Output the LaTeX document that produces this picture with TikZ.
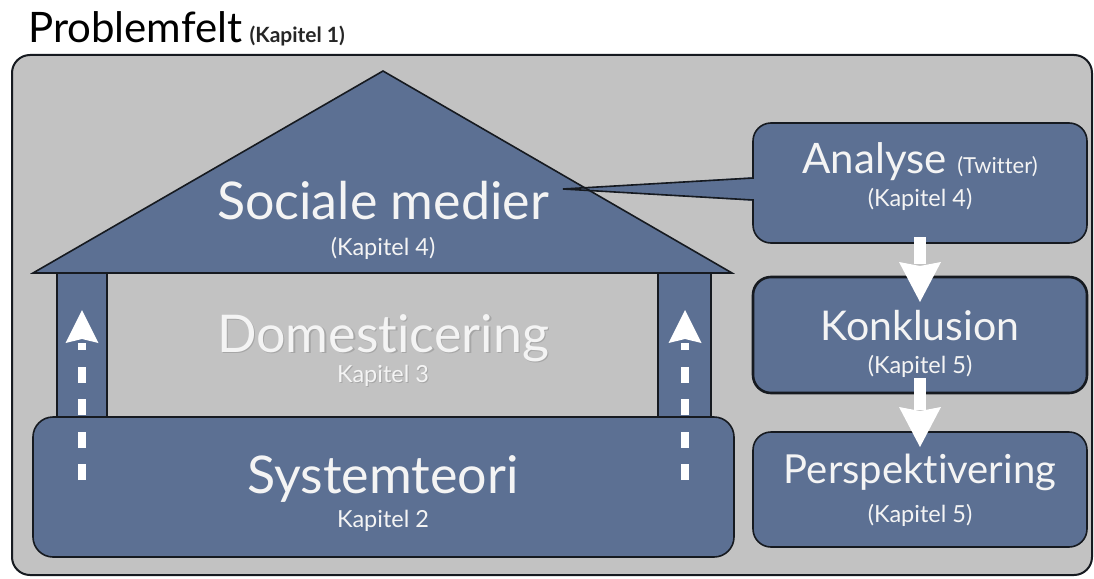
\documentclass[tikz,border=0pt]{standalone}
\usepackage{fontspec}
\setmainfont{Lato}[Ligatures=NoCommon]
\definecolor{panel}{HTML}{C2C2C2}
\definecolor{boxblue}{HTML}{5C7093}
\definecolor{edge}{HTML}{161A20}
\definecolor{paper}{HTML}{F4F4F4}
\newcommand{\fs}[1]{\fontsize{#1}{#1}\selectfont}
\begin{document}
\begin{tikzpicture}[x=1pt,y=-1pt,
  blu/.style={fill=boxblue, draw=edge, line width=1.6pt, line join=round},
  card/.style={blu, rounded corners=18pt, inner sep=0pt, minimum width=334pt},
  lbl/.style={text=paper, inner sep=0pt, anchor=base},
  dashup/.style={draw=white, line width=8.5pt, dash pattern=on 16pt off 16.5pt},
  shaft/.style={draw=white, line width=12pt}]
\useasboundingbox (0,0) rectangle (1094,578);
\fill[white] (0,0) rectangle (1094,578);

% frame and heading
\draw[fill=panel, draw=edge, line width=2pt, rounded corners=18pt] (12,55) rectangle (1092,575);
\node[anchor=base west, inner sep=0pt, text=black, font=\fs{42}] (title) at (28,42) {Problemfelt};
\node[anchor=base west, inner sep=0pt, text=black!85, font=\bfseries\fs{21}] (titlenote) at ([xshift=7pt]title.base east) {(Kapitel 1)};

% speech-bubble tail behind the roof
\coordinate (tip) at (563,189);
\fill[boxblue] (tip) -- (756,177) -- (756,201) -- cycle;

% house: pillars, roof, foundation
\draw[blu] (57,273) rectangle (107,418);
\draw[blu] (658,273) rectangle (711,418);
\draw[blu, line join=miter] (33,273) -- (383,71) -- (732,273) -- cycle;
\node[blu, rounded corners=20pt, minimum width=701pt, minimum height=140pt, inner sep=0pt] (system) at (383.5,487) {};

% tail outline
\draw[edge, line width=1.6pt] (753,178) -- (tip) -- (753,200);

% right column
\node[card, minimum height=120pt] (analyse) at (920,183) {};
\fill[boxblue] (751,179.2) rectangle (756,198.8);
\node[card, minimum height=116pt, line width=2.6pt] (konklusion) at (920,335) {};
\node[card, minimum height=115pt] (persp) at (920,489.5) {};

% texts in the house
\node[lbl, font=\fs{52}] (sociale) at (383,219) {Sociale medier};
\node[lbl, font=\fs{23.5}] (socialek) at (383,255) {(Kapitel 4)};
\node[lbl, text=black!45, opacity=0.5, font=\fs{52}] (domshadow) at (384.5,353.5) {Domesticering};
\node[lbl, font=\fs{52}] (dom) at (383,352) {Domesticering};
\node[lbl, text=black!45, opacity=0.5, font=\fs{23.5}] (domkshadow) at (384,383) {Kapitel 3};
\node[lbl, font=\fs{23.5}] (domk) at (383,382) {Kapitel 3};
\node[lbl, font=\fs{52}] (systext) at (383,493) {Systemteori};
\node[lbl, font=\fs{23.5}] (sysk) at (383,527) {Kapitel 2};

% texts on the right
\node[lbl, font=\fs{42}] (antext) at (920,173) {Analyse \fs{22}(Twitter)};
\node[lbl, font=\fs{23.5}] (ank) at (920,206) {(Kapitel 4)};
\node[lbl, font=\fs{41}] (kontext) at (920,340) {Konklusion};
\node[lbl, font=\fs{23.5}] (konk) at (920,373) {(Kapitel 5)};
\node[lbl, font=\fs{40}] (pertext) at (920,483) {Perspektivering};
\node[lbl, font=\fs{23.5}] (perk) at (920,522) {(Kapitel 5)};

% dashed arrows up the pillars
\coordinate (lb) at (82,480);  \coordinate (lt) at (82,310);
\coordinate (rb) at (685,480); \coordinate (rt) at (685,310);
\draw[dashup] (lb) -- ([shift={(0,-137)}]lb);
\draw[dashup] (rb) -- ([shift={(0,-137)}]rb);
\fill[white] (lt) -- ++(16.5,33) -- ++(-16.5,-4) -- ++(-16.5,4) -- cycle;
\fill[white] (rt) -- ++(16.5,33) -- ++(-16.5,-4) -- ++(-16.5,4) -- cycle;

% arrows down the right column
\coordinate (a1) at (920,237); \coordinate (h1) at (920,302);
\coordinate (a2) at (920,378); \coordinate (h2) at (920,447);
\draw[shaft] (a1) -- ([shift={(0,-38)}]h1);
\fill[white] (h1) -- ++(-21,-40) -- ++(21,4) -- ++(21,-4) -- cycle;
\draw[shaft] (a2) -- ([shift={(0,-37)}]h2);
\fill[white] (h2) -- ++(-21,-40) -- ++(21,4) -- ++(21,-4) -- cycle;
\end{tikzpicture}
\end{document}
